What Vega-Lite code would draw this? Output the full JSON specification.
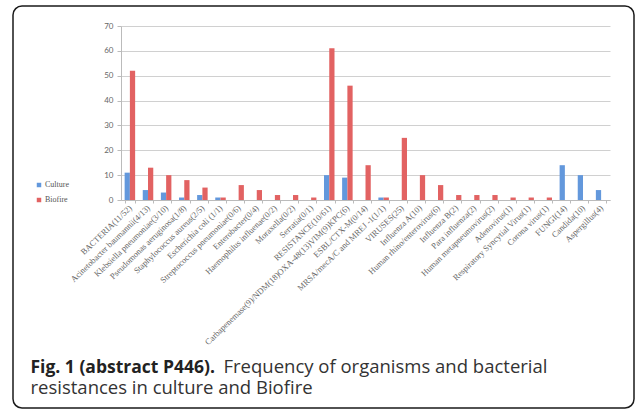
{
  "$schema": "https://vega.github.io/schema/vega-lite/v6.json",
  "width": 489,
  "height": 174,
  "autosize": "none",
  "padding": {"left": 121, "top": 26, "right": 27, "bottom": 209},
  "background": "white",
  "config": {"view": {"stroke": null}},
  "resolve": {"scale": {"x": "independent", "y": "independent"}, "axis": {"x": "independent", "y": "independent"}},
  "layer": [
    {
      "data": {"values": [{}]},
      "mark": {"type": "rect", "fill": null, "stroke": "#1a1a1a", "strokeWidth": 1.5, "cornerRadius": 9},
      "encoding": {
        "x": {"datum": 0, "type": "quantitative", "scale": {"domain": [0, 1], "range": [-108, 513]},
          "axis": {"orient": "bottom", "labels": false, "ticks": false, "domain": false, "grid": false,
            "title": "resistances in culture and Biofire", "titleX": -91, "titleY": 193, "titleAngle": 0,
            "titleAlign": "left", "titleBaseline": "alphabetic", "titleFont": "Open Sans", "titleFontSize": 18.5,
            "titleFontWeight": "normal", "titleColor": "#333"}},
        "x2": {"datum": 1},
        "y": {"datum": 0, "type": "quantitative", "scale": {"domain": [0, 1], "range": [-20, 382]}, "axis": null},
        "y2": {"datum": 1}
      }
    },
    {
      "data": {"values": [
        {"cat": "BACTERIA(11/52)", "series": "Culture", "value": 11},
        {"cat": "BACTERIA(11/52)", "series": "Biofire", "value": 52},
        {"cat": "Acinetobacter baumannii(4/13)", "series": "Culture", "value": 4},
        {"cat": "Acinetobacter baumannii(4/13)", "series": "Biofire", "value": 13},
        {"cat": "Klebsiella pneumoniae(3/10)", "series": "Culture", "value": 3},
        {"cat": "Klebsiella pneumoniae(3/10)", "series": "Biofire", "value": 10},
        {"cat": "Pseudomonas aeruginosa(1/8)", "series": "Culture", "value": 1},
        {"cat": "Pseudomonas aeruginosa(1/8)", "series": "Biofire", "value": 8},
        {"cat": "Staphylococcus aureus(2/5)", "series": "Culture", "value": 2},
        {"cat": "Staphylococcus aureus(2/5)", "series": "Biofire", "value": 5},
        {"cat": "Escherichia coli (1/1)", "series": "Culture", "value": 1},
        {"cat": "Escherichia coli (1/1)", "series": "Biofire", "value": 1},
        {"cat": "Streptococcus pneumoniae(0/6)", "series": "Culture", "value": 0},
        {"cat": "Streptococcus pneumoniae(0/6)", "series": "Biofire", "value": 6},
        {"cat": "Enterobacter(0/4)", "series": "Culture", "value": 0},
        {"cat": "Enterobacter(0/4)", "series": "Biofire", "value": 4},
        {"cat": "Haemophilus influenae(0/2)", "series": "Culture", "value": 0},
        {"cat": "Haemophilus influenae(0/2)", "series": "Biofire", "value": 2},
        {"cat": "Moraxella(0/2)", "series": "Culture", "value": 0},
        {"cat": "Moraxella(0/2)", "series": "Biofire", "value": 2},
        {"cat": "Serratia(0/1)", "series": "Culture", "value": 0},
        {"cat": "Serratia(0/1)", "series": "Biofire", "value": 1},
        {"cat": "RESISTANCE(10/61)", "series": "Culture", "value": 10},
        {"cat": "RESISTANCE(10/61)", "series": "Biofire", "value": 61},
        {"cat": "Carbapenemase(9)/NDM(18)OXA-48(13)VIM(9)KPC(6)", "series": "Culture", "value": 9},
        {"cat": "Carbapenemase(9)/NDM(18)OXA-48(13)VIM(9)KPC(6)", "series": "Biofire", "value": 46},
        {"cat": "ESBL/CTX-M(0/14)", "series": "Culture", "value": 0},
        {"cat": "ESBL/CTX-M(0/14)", "series": "Biofire", "value": 14},
        {"cat": "MRSA/mecA/C and MREJ -1(1/1)", "series": "Culture", "value": 1},
        {"cat": "MRSA/mecA/C and MREJ -1(1/1)", "series": "Biofire", "value": 1},
        {"cat": "VIRUSES(25)", "series": "Biofire", "value": 25},
        {"cat": "Influenza A(10)", "series": "Biofire", "value": 10},
        {"cat": "Human rhino/enterovirus(6)", "series": "Biofire", "value": 6},
        {"cat": "Influenza B(2)", "series": "Biofire", "value": 2},
        {"cat": "Para influenza(2)", "series": "Biofire", "value": 2},
        {"cat": "Human metapneumovirus(2)", "series": "Biofire", "value": 2},
        {"cat": "Adenovirus(1)", "series": "Biofire", "value": 1},
        {"cat": "Respiratory Syncytial Virus(1)", "series": "Biofire", "value": 1},
        {"cat": "Corona virus(1)", "series": "Biofire", "value": 1},
        {"cat": "FUNGI(14)", "series": "Culture", "value": 14},
        {"cat": "Candida(10)", "series": "Culture", "value": 10},
        {"cat": "Aspergillus(4)", "series": "Culture", "value": 4}
      ]},
      "mark": {"type": "bar"},
      "encoding": {
        "x": {"field": "cat", "type": "nominal", "sort": null,
          "scale": {"paddingInner": 0.42, "paddingOuter": 0.2},
          "axis": {"orient": "bottom", "labelAngle": -44, "labelAlign": "right", "labelBaseline": "middle", "labelFont": "Liberation Serif",
            "labelFontSize": 8.5, "labelColor": "#666", "labelPadding": 3, "labelLimit": 300, "labelOverlap": false,
            "ticks": true, "tickSize": 3, "tickBand": "extent", "tickColor": "#bbb", "domainColor": "#bbb",
            "title": "Fig. 1 (abstract P446).", "titleX": -91, "titleY": 172, "titleAngle": 0, "titleAlign": "left",
            "titleBaseline": "alphabetic", "titleFont": "Open Sans", "titleFontSize": 17.5, "titleFontWeight": "bold",
            "titleColor": "#222"}},
        "xOffset": {"field": "series", "sort": ["Culture", "Biofire"], "scale": {"domain": ["Culture", "Biofire"]}},
        "y": {"field": "value", "type": "quantitative", "scale": {"domain": [0, 70]},
          "axis": {"orient": "left", "values": [0, 10, 20, 30, 40, 50, 60, 70], "grid": true, "gridColor": "#d0d0d0",
            "domainColor": "#bbb", "tickColor": "#bbb", "tickSize": 4, "labelFont": "Lato", "labelFontSize": 8,
            "labelColor": "#666", "labelPadding": 4,
            "title": "Frequency of organisms and bacterial", "titleX": 102, "titleY": 346, "titleAngle": 0,
            "titleAlign": "left", "titleBaseline": "alphabetic", "titleFont": "Open Sans", "titleFontSize": 18.5,
            "titleFontWeight": "normal", "titleColor": "#333"}},
        "color": {"field": "series", "type": "nominal",
          "scale": {"domain": ["Culture", "Biofire"], "range": ["#6398dc", "#e26262"]},
          "legend": {"orient": "none", "legendX": -86, "legendY": 155, "title": null, "symbolType": "square",
            "symbolSize": 20, "labelFont": "Liberation Serif", "labelFontSize": 8, "labelColor": "#555",
            "rowPadding": 7, "labelOffset": 2}}
      }
    }
  ]
}
